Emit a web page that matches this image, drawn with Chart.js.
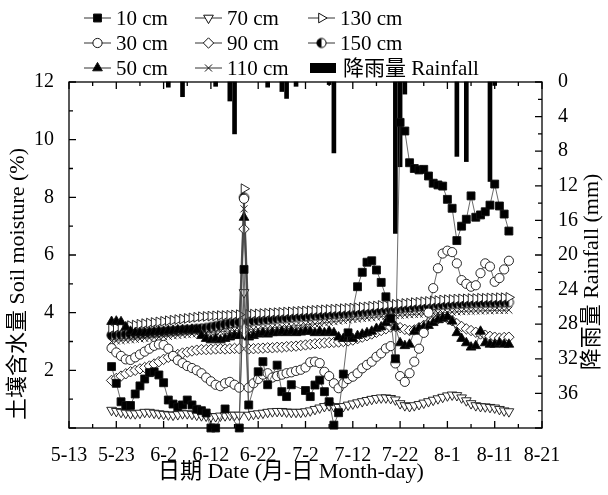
<!DOCTYPE html>
<html>
<head>
<meta charset="utf-8">
<script src="https://cdn.jsdelivr.net/npm/chart.js@4.4.1/dist/chart.umd.min.js"></script>
<style>
  body { margin: 0; background: #fff; }
  #wrap { width: 608px; height: 495px; }
</style>
</head>
<body>
<div id="wrap"><canvas id="chart" width="608" height="495"></canvas></div>
<script>
// x = days counted from 5-13
const days = [
  9, 10, 11, 12, 13, 14, 15, 16, 17, 18,
  19, 20, 21, 22, 23, 24, 25, 26, 27, 28,
  29, 30, 31, 32, 33, 34, 35, 36, 37, 38,
  39, 40, 41, 42, 43, 44, 45, 46, 47, 48,
  49, 50, 51, 52, 53, 54, 55, 56, 57, 58,
  59, 60, 61, 62, 63, 64, 65, 66, 67, 68,
  69, 70, 71, 72, 73, 74, 75, 76, 77, 78,
  79, 80, 81, 82, 83, 84, 85, 86, 87, 88,
  89, 90, 91, 92, 93
];

// soil moisture (%) by depth
const soil10 = [
  2.13, 1.55, 0.91, 0.78, 0.78, 1.18, 1.46, 1.70, 1.92, 1.95,
  1.84, 1.57, 0.97, 0.83, 0.73, 0.80, 0.97, 0.80, 0.65, 0.60,
  0.52, 0.00, 0.00, null, 0.66, null, null, 0.00, 5.50, 0.80,
  null, 1.95, 2.30, 1.50, null, 2.18, 1.26, 1.09, 1.50, null,
  null, 1.30, 1.09, 1.49, 1.66, 1.26, 0.91, 0.10, 0.53, 1.87,
  3.30, null, 4.90, 5.40, 5.75, 5.80, 5.48, 5.05, 4.55, 3.80,
  2.40, 10.6, 10.3, 9.20, 9.00, 8.95, 8.97, 8.74, 8.49, 8.43,
  8.39, 7.93, 7.62, 6.50, 7.00, 7.24, 8.05, 7.31, 7.39, 7.50,
  7.73, 8.46, 7.70, 7.42, 6.83
];
const soil30 = [
  2.77, 2.62, 2.50, 2.38, 2.36, 2.45, 2.55, 2.65, 2.75, 2.85,
  2.90, 2.88, 2.75, 2.50, 2.35, 2.25, 2.15, 2.08, 2.00, 1.90,
  1.75, 1.62, 1.50, 1.45, 1.55, 1.60, 1.50, 1.40, 7.95, 1.40,
  1.55, 1.70, 1.85, 1.90, 1.75, 1.80, 1.85, 1.90, 1.93, 1.98,
  2.02, 2.10, 2.28, 2.30, 2.25, 1.95, 1.80, 1.55, 1.38, 1.55,
  1.70, 1.78, 1.90, 2.07, 2.19, 2.30, 2.47, 2.59, 2.76, 2.84,
  2.24, 1.80, 1.60, 1.90, 2.30, 2.75, 3.30, 4.00, 4.85, 5.54,
  6.05, 6.15, 6.10, 5.71, 5.13, 5.00, 4.90, 4.95, 5.37, 5.71,
  5.60, 5.07, 5.20, 5.50, 5.80
];
const soil50 = [
  3.69, 3.70, 3.68, 3.50, 3.35, 3.30, 3.30, 3.30, 3.32, 3.33,
  3.35, 3.35, 3.37, 3.38, 3.40, 3.40, 3.40, 3.42, 3.40, 3.20,
  3.10, 3.05, 3.10, 3.05, 3.10, 3.15, 3.20, 3.20, 7.30, 3.15,
  3.20, 3.25, 3.30, 3.25, 3.30, 3.30, 3.35, 3.30, 3.35, 3.30,
  3.32, 3.35, 3.35, 3.30, 3.35, 3.30, 3.35, 3.30, 3.15, 3.10,
  3.15, 3.10, 3.20, 3.25, 3.30, 3.35, 3.45, 3.50, 3.65, 3.75,
  3.50, 2.95, 2.85, 2.90, 3.35, 3.45, 3.50, 3.55, 3.65, 3.75,
  3.80, 3.85, 3.70, 3.30, 3.10, 2.95, 2.80, 2.85, 3.35, 2.95,
  2.90, 2.90, 2.95, 2.90, 2.90
];
const soil70 = [
  0.62, 0.58, 0.55, 0.52, 0.50, 0.50, 0.52, 0.55, 0.55, 0.52,
  0.50, 0.48, 0.46, 0.45, 0.47, 0.50, 0.50, 0.48, 0.45, 0.43,
  0.42, 0.40, 0.40, 0.42, 0.43, 0.45, 0.45, 0.45, 4.70, 0.45,
  0.48, 0.50, 0.52, 0.55, 0.57, 0.58, 0.58, 0.56, 0.55, 0.55,
  0.55, 0.57, 0.60, 0.65, 0.70, 0.75, 0.78, 0.75, 0.72, 0.75,
  0.80, 0.84, 0.88, 0.92, 0.96, 1.00, 1.03, 1.05, 1.05, 1.03,
  0.98, 0.85, 0.78, 0.75, 0.78, 0.82, 0.87, 0.92, 0.97, 1.02,
  1.07, 1.12, 1.15, 1.13, 1.05, 0.95, 0.85, 0.78, 0.75, 0.74,
  0.72, 0.70, 0.65, 0.60, 0.57
];
const soil90 = [
  1.65, 1.72, 1.80, 1.88, 1.95, 2.00, 2.05, 2.10, 2.15, 2.22,
  2.30, 2.38, 2.45, 2.50, 2.55, 2.60, 2.63, 2.67, 2.70, 2.72,
  2.72, 2.73, 2.74, 2.75, 2.74, 2.75, 2.76, 2.75, 6.90, 2.74,
  2.75, 2.76, 2.77, 2.78, 2.78, 2.80, 2.80, 2.82, 2.83, 2.84,
  2.86, 2.88, 2.90, 2.92, 2.93, 2.95, 2.96, 2.97, 2.98, 3.00,
  3.02, 3.05, 3.10, 3.15, 3.20, 3.26, 3.32, 3.38, 3.44, 3.50,
  3.52, 3.48, 3.42, 3.38, 3.40, 3.48, 3.56, 3.64, 3.72, 3.78,
  3.82, 3.80, 3.72, 3.62, 3.52, 3.44, 3.38, 3.32, 3.26, 3.22,
  3.18, 3.15, 3.12, 3.14, 3.15
];
const soil110 = [
  3.00, 3.02, 3.03, 3.05, 3.06, 3.08, 3.09, 3.11, 3.12, 3.14,
  3.15, 3.17, 3.18, 3.20, 3.21, 3.23, 3.24, 3.26, 3.27, 3.29,
  3.30, 3.31, 3.33, 3.34, 3.35, 3.37, 3.38, 3.39, 7.60, 3.41,
  3.42, 3.43, 3.45, 3.46, 3.48, 3.49, 3.50, 3.52, 3.53, 3.55,
  3.56, 3.58, 3.60, 3.61, 3.63, 3.65, 3.67, 3.69, 3.71, 3.73,
  3.75, 3.77, 3.78, 3.80, 3.82, 3.83, 3.85, 3.86, 3.88, 3.89,
  3.90, 3.91, 3.92, 3.93, 3.94, 3.95, 3.96, 3.97, 3.98, 3.99,
  4.00, 4.01, 4.02, 4.03, 4.04, 4.05, 4.05, 4.06, 4.06, 4.07,
  4.07, 4.08, 4.08, 4.08, 4.09
];
const soil130 = [
  3.45, 3.47, 3.50, 3.52, 3.55, 3.57, 3.60, 3.62, 3.64, 3.66,
  3.68, 3.70, 3.72, 3.74, 3.76, 3.78, 3.80, 3.82, 3.84, 3.86,
  3.87, 3.88, 3.89, 3.90, 3.90, 3.91, 3.92, 3.93, 8.30, 3.94,
  3.95, 3.96, 3.97, 3.98, 3.99, 4.00, 4.01, 4.02, 4.03, 4.04,
  4.05, 4.06, 4.07, 4.08, 4.09, 4.10, 4.11, 4.12, 4.13, 4.14,
  4.15, 4.16, 4.17, 4.19, 4.20, 4.22, 4.23, 4.25, 4.26, 4.28,
  4.29, 4.30, 4.32, 4.33, 4.35, 4.36, 4.38, 4.39, 4.41, 4.42,
  4.44, 4.45, 4.46, 4.47, 4.48, 4.48, 4.49, 4.49, 4.50, 4.50,
  4.51, 4.51, 4.52, 4.52, 4.53
];
const soil150 = [
  3.22, 3.23, 3.24, 3.25, 3.26, 3.27, 3.28, 3.29, 3.30, 3.32,
  3.33, 3.34, 3.36, 3.37, 3.38, 3.40, 3.41, 3.42, 3.44, 3.45,
  3.47, 3.50, 3.53, 3.56, 3.59, 3.62, 3.65, 3.67, 8.00, 3.70,
  3.72, 3.73, 3.75, 3.76, 3.78, 3.79, 3.81, 3.82, 3.83, 3.85,
  3.86, 3.87, 3.88, 3.90, 3.91, 3.92, 3.94, 3.95, 3.96, 3.98,
  3.99, 4.00, 4.02, 4.03, 4.05, 4.06, 4.08, 4.09, 4.11, 4.12,
  4.14, 4.15, 4.17, 4.18, 4.20, 4.21, 4.22, 4.24, 4.25, 4.27,
  4.28, 4.29, 4.30, 4.31, 4.32, 4.33, 4.33, 4.34, 4.34, 4.35,
  4.35, 4.35, 4.36, 4.36, 4.36
];

// rainfall (mm)
const rainDays = [21, 24, 31, 34, 35, 42, 45, 46, 48, 55, 56, 69, 70, 71, 82, 84, 89, 90];
const rainMm = [0.6, 1.7, 0.5, 2.2, 6.0, 0.6, 1.1, 1.9, 0.5, 0.3, 8.2, 17.5, 9.8, 1.4, 8.6, 9.2, 11.5, 0.4];

const xTickLabels = ['5-13', '5-23', '6-2', '6-12', '6-22', '7-2', '7-12', '7-22', '8-1', '8-11', '8-21'];
const depthNames = ['10 cm', '30 cm', '50 cm', '70 cm', '90 cm', '110 cm', '130 cm', '150 cm'];
const rainName = '降雨量 Rainfall';

const FONT = "'Liberation Serif', 'Noto Sans CJK SC', serif";

// marker with left half filled, for 150 cm
function halfCircle(r) {
    const c = document.createElement("canvas");
    const s = Math.ceil(r * 2 + 3);
    c.width = s;
    c.height = s;
    const g = c.getContext("2d");
    const m = s / 2;
    g.fillStyle = "#fff";
    g.beginPath();
    g.arc(m, m, r, 0, Math.PI * 2);
    g.fill();
    g.fillStyle = "#000";
    g.beginPath();
    g.moveTo(m, m - r);
    g.arc(m, m, r, -Math.PI / 2, Math.PI / 2, true);
    g.closePath();
    g.fill();
    g.strokeStyle = "#000";
    g.lineWidth = 1;
    g.beginPath();
    g.arc(m, m, r, 0, Math.PI * 2);
    g.stroke();
    return c;
}

const markers = [
    { style: "rect", radius: 5.6, rotation: 0, fill: "#000" },
    { style: "circle", radius: 4.6, rotation: 0, fill: "#fff" },
    { style: "triangle", radius: 5.6, rotation: 0, fill: "#000" },
    { style: "triangle", radius: 5.6, rotation: 180, fill: "#fff" },
    { style: "rectRot", radius: 5.2, rotation: 0, fill: "#fff" },
    { style: "crossRot", radius: 5, rotation: 0, fill: "#fff" },
    { style: "triangle", radius: 5.6, rotation: 90, fill: "#fff" },
    { style: halfCircle(4.6), radius: 5, rotation: 0, fill: "#fff" },
];

const soilSeries = [soil10, soil30, soil50, soil70, soil90, soil110, soil130, soil150];

const datasets = soilSeries.map((values, i) => ({
    type: "line",
    label: depthNames[i],
    data: values.map((v, k) => ({ x: days[k], y: v })),
    yAxisID: "y",
    borderColor: "#444",
    borderWidth: 0.8,
    pointStyle: markers[i].style,
    pointRadius: markers[i].radius,
    pointRotation: markers[i].rotation,
    pointBackgroundColor: markers[i].fill,
    pointBorderColor: "#111",
    pointBorderWidth: 0.9,
    spanGaps: true,
    clip: false,
    tension: 0,
}));

datasets.push({
    type: "bar",
    label: rainName,
    data: rainMm.map((v, k) => ({ x: rainDays[k], y: v })),
    yAxisID: "rain",
    backgroundColor: "#000",
    borderWidth: 0,
    barThickness: 4,
    grouped: false,
    clip: false,
});

// frame, inward ticks, axis titles and legend
const decorations = {
    id: "decorations",
    afterDraw(chart) {
        const ctx = chart.ctx;
        const a = chart.chartArea;
        const sx = chart.scales.x;
        const sy = chart.scales.y;
        const sr = chart.scales.rain;
        ctx.save();
        ctx.strokeStyle = "#000";
        ctx.lineWidth = 1.3;
        ctx.strokeRect(a.left, a.top, a.right - a.left, a.bottom - a.top);

        ctx.beginPath();
        sx.ticks.forEach((t) => {
            if (t.value % 5 !== 0) return;
            const px = sx.getPixelForValue(t.value);
            const len = t.value % 10 === 0 ? 7 : 4;
            ctx.moveTo(px, a.bottom);
            ctx.lineTo(px, a.bottom - len);
            ctx.moveTo(px, a.top);
            ctx.lineTo(px, a.top + len);
        });
        sy.ticks.forEach((t) => {
            const py = sy.getPixelForValue(t.value);
            const len = t.value % 2 === 0 ? 7 : 4;
            ctx.moveTo(a.left, py);
            ctx.lineTo(a.left + len, py);
        });
        sr.ticks.forEach((t) => {
            if (t.value % 2 !== 0) return;
            const py = sr.getPixelForValue(t.value);
            const len = t.value % 4 === 0 ? 7 : 4;
            ctx.moveTo(a.right, py);
            ctx.lineTo(a.right - len, py);
        });
        ctx.stroke();

        // axis titles
        ctx.fillStyle = "#000";
        ctx.font = "22px " + FONT;
        ctx.textAlign = "center";
        ctx.textBaseline = "middle";
        ctx.fillText("日期 Date (月-日 Month-day)", 291, 472);

        ctx.save();
        ctx.translate(18, 284);
        ctx.rotate(-Math.PI / 2);
        ctx.fillText("土壤含水量 Soil moisture (%)", 0, 0);
        ctx.restore();

        ctx.save();
        ctx.translate(592, 272);
        ctx.rotate(-Math.PI / 2);
        ctx.fillText("降雨量 Rainfall (mm)", 0, 0);
        ctx.restore();

        // legend, three columns
        ctx.font = "21px " + FONT;
        const colX = [84, 195, 308];
        const rowY = [18, 43, 68];
        const order = [[0, 1, 2], [3, 4, 5], [6, 7, -1]];
        ctx.textAlign = "left";
        order.forEach((col, c) => {
            col.forEach((idx, r) => {
                const x0 = colX[c];
                const y0 = rowY[r];
                if (idx < 0) {
                    ctx.fillStyle = "#000";
                    ctx.fillRect(x0 + 2, y0 - 5, 26, 10);
                    ctx.fillText(rainName, x0 + 35, y0 + 1);
                    return;
                }
                const m = markers[idx];
                ctx.strokeStyle = "#333";
                ctx.lineWidth = 1;
                ctx.beginPath();
                ctx.moveTo(x0, y0);
                ctx.lineTo(x0 + 27, y0);
                ctx.stroke();
                ctx.fillStyle = m.fill;
                ctx.strokeStyle = "#111";
                Chart.helpers.drawPoint(
                    ctx,
                    { pointStyle: m.style, radius: m.radius, rotation: m.rotation, borderWidth: 0.9 },
                    x0 + 13.5,
                    y0
                );
                ctx.fillStyle = "#000";
                ctx.fillText(depthNames[idx], x0 + 32, y0 + 1);
            });
        });
        ctx.restore();
    },
};

const ctx = document.getElementById("chart").getContext("2d");
new Chart(ctx, {
    type: "line",
    data: { datasets: datasets },
    options: {
        responsive: false,
        animation: false,
        layout: { padding: { top: 82, left: 0, right: 0, bottom: 0 } },
        plugins: {
            legend: { display: false },
            tooltip: { enabled: false },
        },
        scales: {
            x: {
                type: "linear",
                min: 0,
                max: 100,
                offset: false,
                grid: { display: false },
                border: { display: false },
                ticks: {
                    stepSize: 5,
                    autoSkip: false,
                    maxRotation: 0,
                    padding: 8,
                    color: "#000",
                    font: { family: FONT, size: 20 },
                    callback: (v) => (v % 10 === 0 ? xTickLabels[v / 10] : ""),
                },
                afterFit: (s) => { s.height = 67; },
            },
            y: {
                position: "left",
                min: 0,
                max: 12,
                grid: { display: false },
                border: { display: false },
                ticks: {
                    stepSize: 1,
                    autoSkip: false,
                    padding: 7,
                    color: "#000",
                    font: { family: FONT, size: 20 },
                    callback: (v) => (v > 0 && v % 2 === 0 ? v : ""),
                },
                afterFit: (s) => { s.width = 69; },
            },
            rain: {
                position: "right",
                min: 0,
                max: 40,
                reverse: true,
                grid: { display: false },
                border: { display: false },
                ticks: {
                    stepSize: 2,
                    autoSkip: false,
                    padding: 8,
                    color: "#000",
                    font: { family: FONT, size: 20 },
                    callback: (v) => (v % 4 === 0 && v < 40 ? v : ""),
                },
                afterFit: (s) => { s.width = 66; },
            },
        },
    },
    plugins: [decorations],
});
</script>
</body>
</html>
